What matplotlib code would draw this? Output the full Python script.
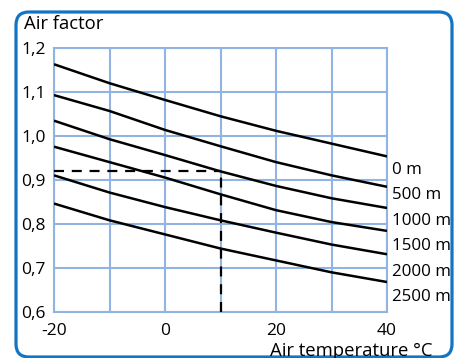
import matplotlib
matplotlib.use('Agg')
import matplotlib.pyplot as plt
from matplotlib.patches import FancyBboxPatch
from matplotlib.ticker import MultipleLocator, FixedLocator

plt.rcParams['font.family'] = ['Open Sans', 'DejaVu Sans']
plt.rcParams['font.size'] = 12

# temperatures read at each grid line
temps = [-20, -10, 0, 10, 20, 30, 40]

# air factor per altitude
f_0m = [1.162, 1.119, 1.081, 1.044, 1.011, 0.982, 0.953]
f_500m = [1.092, 1.056, 1.013, 0.976, 0.940, 0.910, 0.884]
f_1000m = [1.034, 0.992, 0.956, 0.919, 0.886, 0.858, 0.836]
f_1500m = [0.975, 0.940, 0.905, 0.867, 0.831, 0.804, 0.784]
f_2000m = [0.910, 0.871, 0.838, 0.808, 0.780, 0.753, 0.731]
f_2500m = [0.846, 0.808, 0.776, 0.744, 0.717, 0.690, 0.668]

altitude_labels = ['0 m', '500 m', '1000 m', '1500 m', '2000 m', '2500 m']
curves = [f_0m, f_500m, f_1000m, f_1500m, f_2000m, f_2500m]

# example reading: 10 °C, 1000 m
example_temp = 10
example_factor = 0.919

x_ticks = [-20, 0, 20, 40]
y_ticks = [0.6, 0.7, 0.8, 0.9, 1.0, 1.1, 1.2]

grid_blue = '#92b4e3'
frame_blue = '#1274c4'

fig = plt.figure(figsize=(4.59, 3.58), dpi=100)
ax = fig.add_axes([54 / 459, 1 - 312 / 358, 333 / 459, 264.5 / 358])

for vals in curves:
    ax.plot(temps, vals, color='black', lw=1.8, solid_capstyle='butt', zorder=3)

ax.plot([-20, example_temp], [example_factor, example_factor], color='black',
        lw=1.6, dashes=(4.5, 3.5), zorder=4)
ax.plot([example_temp, example_temp], [0.6, example_factor], color='black',
        lw=1.6, dashes=(4.5, 3.5), zorder=4)

ax.set_xlim(-20, 40)
ax.set_ylim(0.6, 1.2)
ax.xaxis.set_major_locator(FixedLocator(x_ticks))
ax.xaxis.set_minor_locator(MultipleLocator(10))
ax.yaxis.set_major_locator(FixedLocator(y_ticks))
ax.set_xticklabels([str(t) for t in x_ticks])
ax.set_yticklabels([f'{v:.1f}'.replace('.', ',') for v in y_ticks])
ax.grid(True, which='both', color=grid_blue, lw=1.5, zorder=1)
ax.tick_params(which='both', length=0)
ax.tick_params(axis='x', pad=8, labelsize=12.5)
ax.tick_params(axis='y', pad=6, labelsize=12.5)
for s in ax.spines.values():
    s.set_color(grid_blue)
    s.set_linewidth(1.5)

for i, lab in enumerate(altitude_labels):
    ax.text(1.016, (312 - (170 + i * 25.4)) / 264.5, lab, transform=ax.transAxes,
            ha='left', va='center', fontsize=12.2)

fig.text(24 / 459, 1 - 24 / 358, 'Air factor', ha='left', va='center', fontsize=13.3)
fig.text(433 / 459, 2 / 358, 'Air temperature °C', ha='right', va='baseline',
         fontsize=13.3)

frame = FancyBboxPatch((16, 1), 436, 345, boxstyle='round,pad=0,rounding_size=13',
                       transform=None, fill=False, edgecolor=frame_blue, lw=2.3)
fig.add_artist(frame)

fig.savefig('out.png', dpi=100)
